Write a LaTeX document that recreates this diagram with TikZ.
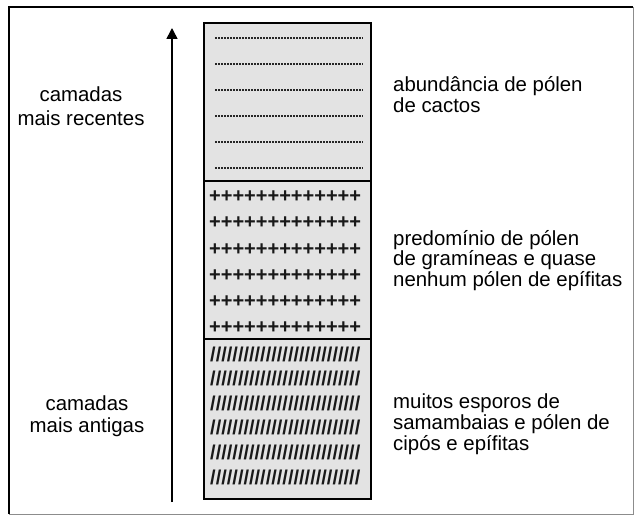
\documentclass[tikz,border=0pt]{standalone}
\usepackage{fontspec}
\setmainfont{Liberation Sans}
\usetikzlibrary{arrows.meta}
\definecolor{layergray}{HTML}{E3E3E3}
\begin{document}
\begin{tikzpicture}[x=1pt,y=-1pt,
  lbl/.style={inner sep=0pt, font=\fontsize{20.4}{24}\selectfont},
  pat/.style={inner sep=0pt, font=\fontsize{20}{24}\selectfont\bfseries, black!90},
  layer/.style={draw=black, line width=1.4pt, fill=layergray, minimum width=167pt, inner sep=0pt},
  dotrow/.style={line width=1.7pt, black!85, dash pattern=on 1.6pt off 1.4pt},
  arrowline/.style={line width=1.6pt, -{Triangle[width=11pt,length=11pt]}}]
\useasboundingbox (0,0) rectangle (635,516);
\fill[white] (0,0) rectangle (635,516);
% outer frame
\draw[line width=1.6pt] (633,7) -- (9,7) -- (9,514);
\draw[black!45, line width=1pt] (633,7) -- (633,514) -- (9,514);
% layers
\node[layer, minimum height=158pt] (top) at (287.5,102) {};
\node[layer, minimum height=158pt] (mid) at (287.5,260) {};
\node[layer, minimum height=160pt] (bot) at (287.5,419) {};
% dotted rows
\foreach \y in {38,64,90,116,142,168}
  \draw[dotrow] (215,\y) -- (363,\y);
% plus rows
\foreach \y [count=\i] in {203,229,255,281,307,333}
  \node[pat, anchor=base west] (plus\i) at (209,\y) {+++++++++++++};
% slash rows
\foreach \y [count=\i] in {361,385.6,410.2,434.8,459.4,484}
  \node[pat, anchor=base west] (slash\i) at (210,\y) {///////////////////////////};
% arrow
\coordinate (arrS) at (172,502);
\coordinate (arrE) at (172,28);
\draw[arrowline] (arrS) -- (arrE);
% left labels
\node[lbl, anchor=base] (lr1) at (81,102) {camadas};
\node[lbl, anchor=base] (lr2) at (81,125.5) {mais recentes};
\node[lbl, anchor=base] (la1) at (87,410) {camadas};
\node[lbl, anchor=base] (la2) at (87,432) {mais antigas};
% right labels
\node[lbl, anchor=base west] (r11) at (393,92) {abundância de pólen};
\node[lbl, anchor=base west] (r12) at (393,112.7) {de cactos};
\node[lbl, anchor=base west] (r21) at (393,245) {predomínio de pólen};
\node[lbl, anchor=base west] (r22) at (393,265.8) {de gramíneas e quase};
\node[lbl, anchor=base west] (r23) at (393,286.6) {nenhum pólen de epífitas};
\node[lbl, anchor=base west] (r31) at (393,408.3) {muitos esporos de};
\node[lbl, anchor=base west] (r32) at (393,429.2) {samambaias e pólen de};
\node[lbl, anchor=base west] (r33) at (393,450) {cipós e epífitas};
\end{tikzpicture}
\end{document}
